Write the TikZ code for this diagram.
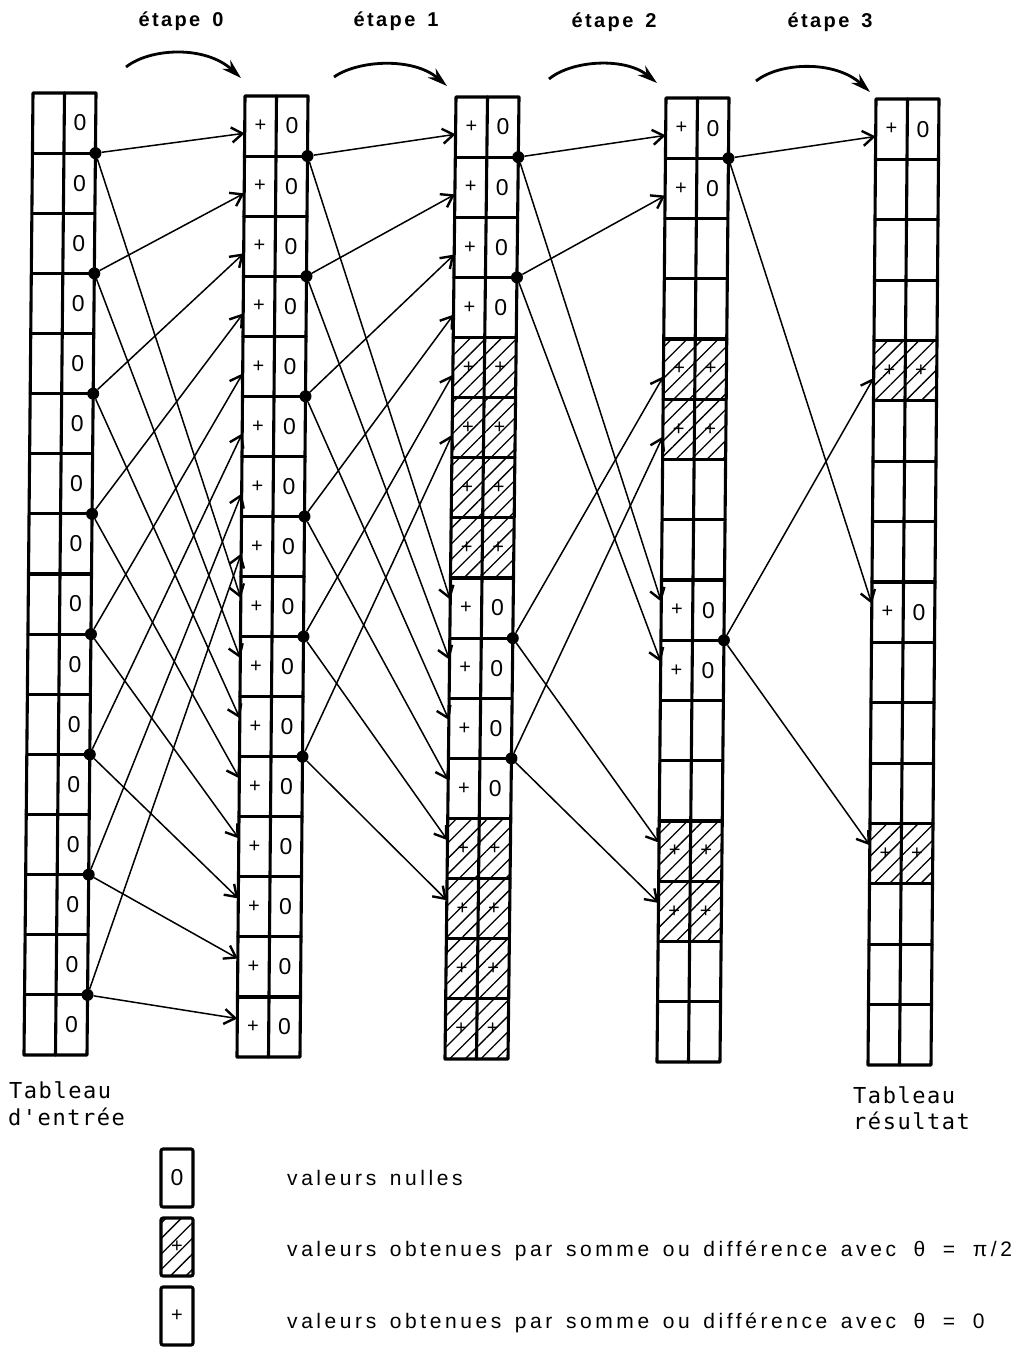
\documentclass[tikz,border=0pt]{standalone}
\usepackage{fontspec}
\setmainfont{Liberation Sans}
\newfontfamily\legfont[LetterSpace=17,WordSpace=1.45]{Liberation Sans}
\newfontfamily\etfont[LetterSpace=12,WordSpace=1.5]{Liberation Sans}
\newfontfamily\tabfont[LetterSpace=7]{DejaVu Sans Mono}
\usetikzlibrary{arrows.meta,calc,patterns.meta}
\newcommand\fillcolumn[2]{%
  \foreach \t [count=\r from 0] in {#2}{%
    \pgfmathtruncatemacro\rn{\r+1}%
    \coordinate (lc#1-\r) at ($(c#1-L\r)!0.5!(c#1-M\rn)$);
    \coordinate (rc#1-\r) at ($(c#1-M\r)!0.5!(c#1-R\rn)$);
    \if h\t \fill[hatch] (c#1-L\r) -- (c#1-R\r) -- (c#1-R\rn) -- (c#1-L\rn) -- cycle;
      \node[cellplus] (p#1-\r) at (lc#1-\r) {+};
      \node[cellplus] (v#1-\r) at (rc#1-\r) {+};\fi
    \if z\t \node[cellnum] (v#1-\r) at (rc#1-\r) {0};\fi
    \if p\t \node[cellplus] (p#1-\r) at (lc#1-\r) {+};
      \node[cellnum] (v#1-\r) at (rc#1-\r) {0};\fi
  }}
\begin{document}
\begin{tikzpicture}[x=1pt,y=-1pt,
  grid/.style={line width=3.1pt, line join=round, line cap=round},
  hatch/.style={pattern={Lines[angle=45,distance=11pt,line width=1.3pt]}},
  conn/.style={line width=1.5pt, -{Straight Barb[length=11pt,width=15pt,line width=2.4pt]}},
  junction/.style={circle, fill, inner sep=0pt, minimum size=12pt},
  cellnum/.style={inner sep=0pt, font=\fontsize{23}{27}\selectfont},
  cellplus/.style={inner sep=0pt, font=\fontsize{20}{24}\selectfont},
  etarrow/.style={line width=2.8pt, -{Stealth[length=20pt,width=12pt]}},
  etlabel/.style={font=\etfont\bfseries\fontsize{20}{24}\selectfont, inner sep=0pt},
  tablabel/.style={font=\tabfont\fontsize{22}{27}\selectfont, inner sep=0pt, anchor=base west},
  legtext/.style={font=\legfont\fontsize{21}{25}\selectfont, inner sep=0pt, anchor=base west},
  legbox/.style={draw, line width=3.1pt, rounded corners=2pt, minimum width=32pt, minimum height=58pt, inner sep=0pt},
]
\useasboundingbox (0,0) rectangle (1023,1353);
\fill[white] (0,0) rectangle (1023,1353);

% column geometry
\foreach \c/\xt/\xb/\yt/\yb in {1/33/24/93/1055, 2/245/237/96/1057, 3/456/445/97/1059, 4/666/657/98/1062, 5/876/868/99/1065}{
  \foreach \i in {0,...,16}{
    \coordinate (c\c-L\i) at ($(\xt,\yt)!\i/16!(\xb,\yb)$);
    \coordinate (c\c-M\i) at ($({\xt+31.5},\yt)!\i/16!({\xb+31.5},\yb)$);
    \coordinate (c\c-R\i) at ($({\xt+63},\yt)!\i/16!({\xb+63},\yb)$);
  }
  \foreach \i in {0,...,15}{
    \pgfmathtruncatemacro\j{\i+1}
    \coordinate (u\c-\i) at ($(c\c-L\i)!0.62!(c\c-L\j)$);
    \coordinate (w\c-\i) at ($(c\c-L\i)!0.36!(c\c-L\j)$);
  }
}

% cell contents
\fillcolumn{1}{z,z,z,z,z,z,z,z,z,z,z,z,z,z,z,z}
\fillcolumn{2}{p,p,p,p,p,p,p,p,p,p,p,p,p,p,p,p}
\fillcolumn{3}{p,p,p,p,h,h,h,h,p,p,p,p,h,h,h,h}
\fillcolumn{4}{p,p,e,e,h,h,e,e,p,p,e,e,h,h,e,e}
\fillcolumn{5}{p,e,e,e,h,e,e,e,p,e,e,e,h,e,e,e}

% grid lines
\foreach \c in {1,...,5}{
  \draw[grid] (c\c-L0) -- (c\c-R0) -- (c\c-R16) -- (c\c-L16) -- cycle;
  \draw[grid] (c\c-M0) -- (c\c-M16);
  \foreach \i in {1,...,15} \draw[grid] (c\c-L\i) -- (c\c-R\i);
}

% junction dots
\foreach \k in {0,...,7}{\pgfmathtruncatemacro\j{2*\k+1}\node[junction] (d1-\k) at (c1-R\j) {};}
\foreach \k in {0,...,5}{\pgfmathtruncatemacro\j{2*\k+1}\node[junction] (d2-\k) at (c2-R\j) {};}
\foreach \k in {0,1,4,5}{\pgfmathtruncatemacro\j{2*\k+1}\node[junction] (d3-\k) at (c3-R\j) {};}
\foreach \k in {0,4}{\pgfmathtruncatemacro\j{2*\k+1}\node[junction] (d4-\k) at (c4-R\j) {};}

% connectors
\foreach \k in {0,...,7}{\pgfmathtruncatemacro\kk{\k+8}
  \draw[conn] (d1-\k) -- (u2-\k); \draw[conn] (d1-\k) -- (w2-\kk);}
\foreach \k in {0,...,5}{\pgfmathtruncatemacro\kk{\k+8}
  \draw[conn] (d2-\k) -- (u3-\k); \draw[conn] (d2-\k) -- (w3-\kk);}
\foreach \k in {0,1,4,5}{\pgfmathtruncatemacro\kk{\k+8}
  \draw[conn] (d3-\k) -- (u4-\k); \draw[conn] (d3-\k) -- (w4-\kk);}
\foreach \k in {0,4}{\pgfmathtruncatemacro\kk{\k+8}
  \draw[conn] (d4-\k) -- (u5-\k); \draw[conn] (d4-\k) -- (w5-\kk);}

% stage arrows and labels
\node[etlabel] (et0) at (181,21) {étape 0};
\node[etlabel] (et1) at (396,21) {étape 1};
\node[etlabel] (et2) at (614,22) {étape 2};
\node[etlabel] (et3) at (830,22) {étape 3};
\coordinate (e0s) at (126,67); \coordinate (e0e) at (241,78);
\coordinate (e1s) at (334,77); \coordinate (e1e) at (447,86);
\coordinate (e2s) at (549,79); \coordinate (e2e) at (657,83);
\coordinate (e3s) at (756,81); \coordinate (e3e) at (870,92);
\draw[etarrow] (e0s) .. controls (150,48) and (205,45) .. (e0e);
\draw[etarrow] (e1s) .. controls (358,60) and (413,57) .. (e1e);
\draw[etarrow] (e2s) .. controls (572,60) and (625,57) .. (e2e);
\draw[etarrow] (e3s) .. controls (780,62) and (835,60) .. (e3e);

% table labels
\node[tablabel] (tin1) at (9,1098) {Tableau};
\node[tablabel] (tin2) at (8,1125) {d'entrée};
\node[tablabel] (tout1) at (853,1103) {Tableau};
\node[tablabel] (tout2) at (853,1129) {résultat};

% legend
\node[legbox, font=\fontsize{23}{27}\selectfont] (leg1) at (177,1178) {0};
\node[legbox, hatch, font=\fontsize{20}{24}\selectfont] (leg2) at (177,1247) {+};
\node[legbox, font=\fontsize{20}{24}\selectfont] (leg3) at (177,1316) {+};
\node[legtext] (lt1) at (287,1185) {valeurs nulles};
\node[legtext] (lt2) at (287,1256) {valeurs obtenues par somme ou différence avec\hspace{4pt} θ\hspace{4pt} =\hspace{4pt} π/2};
\node[legtext] (lt3) at (287,1328) {valeurs obtenues par somme ou différence avec\hspace{4pt} θ\hspace{4pt} =\hspace{4pt} 0};
\end{tikzpicture}
\end{document}
